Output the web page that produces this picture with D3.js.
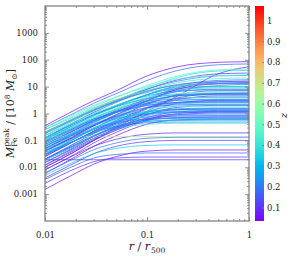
<!DOCTYPE html>
<html>
<head>
<meta charset="utf-8">
<script src="https://cdn.jsdelivr.net/npm/d3@7"></script>
<style>
  body { margin: 0; background: #fff; }
  text { font-family: "DejaVu Serif", "Liberation Serif", serif; fill: #222; }
</style>
</head>
<body>
<div id="mychart"></div>
<script>
// radii (r/r500) where each profile is sampled
var rGrid = [0.01, 0.02, 0.03, 0.05, 0.1, 0.2, 0.5, 1];

// redshift of each halo
var zValues = [
  0.06, 0.18, 0.08, 0.45, 0.38, 0.10, 0.22, 0.42,
  0.20, 0.09, 0.85, 0.25, 0.35, 0.15, 0.05, 0.55,
  0.20, 0.30, 0.08, 0.18, 0.40, 0.12, 0.24, 0.33,
  0.16, 0.07, 0.48, 0.20, 0.36, 0.28, 0.10, 0.22,
  0.40, 0.14, 0.06, 0.32, 0.19, 0.44, 0.09, 0.68,
  0.20, 0.11, 0.34, 0.07, 0.17, 0.10, 0.12, 0.37,
  0.26, 0.43, 0.21, 0.31, 0.13, 0.23, 0.52, 0.39,
  0.17, 0.04, 0.29, 0.46, 0.24, 0.10, 0.35, 0.15,
  0.19, 0.23, 0.14, 0.27, 0.21, 0.16, 0.25, 0.08,
  0.30, 0.18
];

// peak Fe mass profiles, 10^8 Msun, one row per halo (same order as zValues)
var profiles = [
  [0.35, 1.4, 3, 7, 25, 55, 80, 85],
  [0.3, 1.1, 2.4, 5.5, 17, 40, 65, 70],
  [0.01, 0.04, 0.1, 0.3, 1.2, 4.5, 30, 55],
  [0.25, 0.9, 1.8, 4, 11, 25, 42, 45],
  [0.15, 0.6, 1.3, 3, 9, 22, 38, 40],
  [0.12, 0.5, 1.1, 2.6, 8, 18, 30, 32],
  [0.2, 0.7, 1.4, 3, 8, 16, 25, 26],
  [0.18, 0.6, 1.2, 2.6, 7, 14, 20, 21],
  [0.1, 0.4, 0.8, 1.8, 5, 11, 17, 18],
  [0.05, 0.2, 0.45, 1.1, 3.5, 9, 15, 16],
  [0.2, 0.7, 1.5, 3.2, 7, 11, 12.5, 12.5],
  [0.15, 0.5, 1, 2, 5, 8.5, 10, 10],
  [0.08, 0.3, 0.65, 1.5, 4, 7.5, 9, 9],
  [0.06, 0.25, 0.55, 1.3, 3.5, 6.5, 8, 8],
  [0.03, 0.12, 0.28, 0.7, 2.2, 5, 7, 7],
  [0.12, 0.4, 0.8, 1.6, 3.5, 5.5, 6.5, 6.5],
  [0.04, 0.16, 0.35, 0.85, 2.4, 4.6, 5.8, 5.8],
  [0.1, 0.35, 0.7, 1.4, 3, 4.5, 5, 5],
  [0.02, 0.08, 0.18, 0.45, 1.5, 3.3, 4.5, 4.5],
  [0.07, 0.25, 0.5, 1.1, 2.5, 3.6, 4, 4],
  [0.05, 0.18, 0.4, 0.9, 2.1, 3.1, 3.5, 3.5],
  [0.015, 0.06, 0.14, 0.35, 1.1, 2.4, 3.1, 3.1],
  [0.09, 0.3, 0.6, 1.1, 2, 2.6, 2.8, 2.8],
  [0.03, 0.12, 0.27, 0.65, 1.6, 2.3, 2.5, 2.5],
  [0.05, 0.17, 0.35, 0.75, 1.6, 2.1, 2.2, 2.2],
  [0.01, 0.04, 0.1, 0.27, 0.9, 1.7, 2, 2],
  [0.07, 0.22, 0.45, 0.9, 1.5, 1.8, 1.85, 1.85],
  [0.025, 0.1, 0.22, 0.5, 1.1, 1.5, 1.6, 1.6],
  [0.04, 0.14, 0.3, 0.6, 1.1, 1.35, 1.4, 1.4],
  [0.02, 0.08, 0.18, 0.4, 0.85, 1.1, 1.2, 1.2],
  [0.008, 0.032, 0.08, 0.2, 0.55, 0.9, 1.05, 1.05],
  [0.03, 0.1, 0.2, 0.4, 0.75, 0.9, 0.95, 0.95],
  [0.05, 0.15, 0.28, 0.5, 0.75, 0.82, 0.85, 0.85],
  [0.012, 0.05, 0.11, 0.26, 0.55, 0.7, 0.75, 0.75],
  [0.006, 0.025, 0.06, 0.15, 0.4, 0.58, 0.62, 0.62],
  [0.02, 0.07, 0.15, 0.3, 0.5, 0.55, 0.56, 0.56],
  [0.035, 0.1, 0.19, 0.33, 0.45, 0.48, 0.48, 0.48],
  [0.015, 0.055, 0.12, 0.25, 0.4, 0.43, 0.43, 0.43],
  [0.008, 0.03, 0.06, 0.11, 0.17, 0.19, 0.19, 0.19],
  [0.14, 0.14, 0.14, 0.14, 0.14, 0.14, 0.14, 0.14],
  [0.006, 0.022, 0.045, 0.08, 0.12, 0.13, 0.13, 0.13],
  [0.004, 0.015, 0.032, 0.06, 0.09, 0.1, 0.1, 0.1],
  [0.005, 0.017, 0.032, 0.05, 0.065, 0.068, 0.068, 0.068],
  [0.0015, 0.006, 0.013, 0.025, 0.04, 0.044, 0.044, 0.044],
  [0.0035, 0.012, 0.022, 0.03, 0.034, 0.034, 0.034, 0.034],
  [0.0025, 0.009, 0.016, 0.022, 0.024, 0.024, 0.024, 0.024],
  [0.019, 0.019, 0.019, 0.019, 0.019, 0.019, 0.019, 0.019],
  [0.2, 0.7, 1.4, 2.8, 6, 9, 10, 10],
  [0.12, 0.45, 0.9, 2, 4.5, 7, 7.5, 7.5],
  [0.1, 0.35, 0.7, 1.4, 2.8, 3.8, 4, 4],
  [0.08, 0.28, 0.55, 1.1, 2, 2.5, 2.6, 2.6],
  [0.06, 0.2, 0.4, 0.75, 1.2, 1.4, 1.45, 1.45],
  [0.02, 0.07, 0.15, 0.32, 0.65, 0.8, 0.82, 0.82],
  [0.045, 0.14, 0.26, 0.45, 0.62, 0.66, 0.66, 0.66],
  [0.15, 0.5, 1, 2, 4, 5.5, 6, 6],
  [0.25, 0.8, 1.6, 3.3, 7, 11, 13, 13],
  [0.18, 0.65, 1.3, 2.8, 6.5, 12, 15, 15],
  [0.04, 0.15, 0.35, 0.9, 3, 8, 13, 14],
  [0.11, 0.4, 0.85, 1.9, 5, 10, 13, 13],
  [0.3, 1, 2, 4.2, 10, 19, 26, 27],
  [0.06, 0.22, 0.48, 1.1, 3, 7, 11, 12],
  [0.025, 0.1, 0.22, 0.55, 1.6, 3.8, 5.5, 5.7],
  [0.035, 0.12, 0.25, 0.55, 1.2, 1.9, 2.1, 2.1],
  [0.015, 0.055, 0.12, 0.28, 0.7, 1.15, 1.3, 1.3],
  [0.09, 0.32, 0.62, 1.2, 2.3, 3.1, 3.3, 3.3],
  [0.04, 0.13, 0.26, 0.5, 0.95, 1.2, 1.25, 1.25],
  [0.028, 0.1, 0.21, 0.45, 0.95, 1.4, 1.5, 1.5],
  [0.06, 0.19, 0.36, 0.65, 1.0, 1.1, 1.12, 1.12],
  [0.018, 0.065, 0.14, 0.3, 0.6, 0.7, 0.72, 0.72],
  [0.05, 0.18, 0.38, 0.8, 1.7, 2.6, 3.0, 3.0],
  [0.13, 0.45, 0.9, 1.8, 3.6, 5, 5.4, 5.4],
  [0.012, 0.045, 0.1, 0.24, 0.6, 1.0, 1.15, 1.15],
  [0.03, 0.1, 0.19, 0.35, 0.52, 0.58, 0.6, 0.6],
  [0.07, 0.26, 0.55, 1.2, 2.8, 4.6, 5.2, 5.2]
];

var xTickVals = [0.01, 0.1, 1];
var yTickVals = [0.001, 0.01, 0.1, 1, 10, 100, 1000];
var cbTickVals = [0.1, 0.2, 0.3, 0.4, 0.5, 0.6, 0.7, 0.8, 0.9, 1];
var zRange = [0.035, 1.07];

var margin = {left: 45, top: 6, right: 44, bottom: 40};
var width = 293 - margin.left - margin.right,
    height = 261 - margin.top - margin.bottom;
var frameColor = "#7a7a7a";

var svg = d3.select("#mychart")
  .append("svg")
    .attr("width", 293)
    .attr("height", 261);

var g = svg.append("g")
    .attr("transform", "translate(" + margin.left + "," + margin.top + ")");

var x = d3.scaleLog().domain([0.01, 1]).range([0, width]);
var y = d3.scaleLog().domain([1e-4, 1e4]).range([height, 0]);

// matplotlib "rainbow" colormap
function rainbow(t) {
  t = Math.max(0, Math.min(1, t));
  var r = Math.min(1, Math.abs(2 * t - 0.5)),
      gg = Math.sin(Math.PI * t),
      b = Math.cos(Math.PI * t / 2);
  return d3.rgb(r * 255, gg * 255, b * 255).toString();
}
var zNorm = d3.scaleLinear().domain(zRange).range([0, 1]);
var color = function(z) { return rainbow(zNorm(z)); };

// profiles
g.append("defs").append("clipPath").attr("id", "clip")
  .append("rect").attr("width", width).attr("height", height);

var line = d3.line()
  .x(function(d, i) { return x(rGrid[i]); })
  .y(function(d) { return y(d); })
  .curve(d3.curveMonotoneX);

g.append("g").attr("clip-path", "url(#clip)")
  .selectAll("path")
  .data(profiles)
  .enter()
  .append("path")
    .attr("d", line)
    .attr("fill", "none")
    .attr("stroke", function(d, i) { return color(zValues[i]); })
    .attr("stroke-width", 0.9)
    .attr("stroke-opacity", 0.8);

// axes with inward ticks on all four sides
var yMinor = [];
for (var e = -4; e < 4; e++) for (var k = 2; k < 10; k++) yMinor.push(k * Math.pow(10, e));
var xMinor = [];
for (var e2 = -2; e2 < 0; e2++) for (var k2 = 2; k2 < 10; k2++) xMinor.push(k2 * Math.pow(10, e2));

function styleAxis(sel) {
  sel.select(".domain").remove();
  sel.selectAll("line").attr("stroke", frameColor).attr("stroke-width", 0.8);
  sel.selectAll("text").attr("font-size", 8.5).attr("fill", "#222");
}
var fmt = function(d) { return String(+d.toPrecision(3)); };

g.append("g").attr("transform", "translate(0," + height + ")")
  .call(d3.axisBottom(x).tickValues(xTickVals).tickFormat(fmt).tickSizeInner(-4).tickSizeOuter(0).tickPadding(11))
  .call(styleAxis);
g.append("g").attr("transform", "translate(0," + height + ")")
  .call(d3.axisBottom(x).tickValues(xMinor).tickFormat("").tickSizeInner(-2).tickSizeOuter(0))
  .call(styleAxis);
g.append("g")
  .call(d3.axisTop(x).tickValues(xTickVals).tickFormat("").tickSizeInner(-4).tickSizeOuter(0))
  .call(styleAxis);
g.append("g")
  .call(d3.axisTop(x).tickValues(xMinor).tickFormat("").tickSizeInner(-2).tickSizeOuter(0))
  .call(styleAxis);

g.append("g")
  .call(d3.axisLeft(y).tickValues(yTickVals).tickFormat(fmt).tickSizeInner(-4).tickSizeOuter(0).tickPadding(7))
  .call(styleAxis);
g.append("g")
  .call(d3.axisLeft(y).tickValues(yMinor).tickFormat("").tickSizeInner(-2).tickSizeOuter(0))
  .call(styleAxis);
g.append("g").attr("transform", "translate(" + width + ",0)")
  .call(d3.axisRight(y).tickValues(yTickVals).tickFormat("").tickSizeInner(-4).tickSizeOuter(0))
  .call(styleAxis);
g.append("g").attr("transform", "translate(" + width + ",0)")
  .call(d3.axisRight(y).tickValues(yMinor).tickFormat("").tickSizeInner(-2).tickSizeOuter(0))
  .call(styleAxis);

g.append("rect")
  .attr("width", width).attr("height", height)
  .attr("fill", "none").attr("stroke", frameColor).attr("stroke-width", 1.2);

// axis labels
g.append("text")
  .attr("x", width / 2).attr("y", height + 29)
  .attr("text-anchor", "middle").attr("font-size", 11)
  .call(function(t) {
    t.append("tspan").attr("font-style", "italic").text("r");
    t.append("tspan").text(" / ");
    t.append("tspan").attr("font-style", "italic").text("r");
    t.append("tspan").attr("font-size", 7.5).attr("dx", 1).attr("dy", 3).text("500");
  });

g.append("text")
  .attr("transform", "translate(-31," + (height / 2) + ") rotate(-90)")
  .attr("text-anchor", "middle").attr("font-size", 11)
  .call(function(t) {
    t.append("tspan").attr("font-style", "italic").text("M");
    t.append("tspan").attr("font-size", 7.5).attr("dy", 3).text("Fe");
    t.append("tspan").attr("font-size", 7.5).attr("dx", -9).attr("dy", -8).text("peak");
    t.append("tspan").attr("dy", 5).text(" / [10");
    t.append("tspan").attr("font-size", 7.5).attr("dy", -4).text("8");
    t.append("tspan").attr("dy", 4).attr("font-style", "italic").text(" M");
    t.append("tspan").attr("font-size", 7.5).attr("dy", 2.5).text("\u2299");
    t.append("tspan").attr("dy", -2.5).text("]");
  });

// colorbar
var cbX = 255, cbW = 9;
var cbY = d3.scaleLinear().domain(zRange).range([margin.top + height, margin.top]);

var grad = svg.append("defs").append("linearGradient")
  .attr("id", "cbgrad").attr("x1", 0).attr("y1", 1).attr("x2", 0).attr("y2", 0);
d3.range(0, 1.0001, 0.05).forEach(function(t) {
  grad.append("stop").attr("offset", t).attr("stop-color", rainbow(t));
});
svg.append("rect")
  .attr("x", cbX).attr("y", margin.top)
  .attr("width", cbW).attr("height", height)
  .attr("fill", "url(#cbgrad)");

svg.append("g").attr("transform", "translate(" + (cbX + cbW) + ",0)")
  .call(d3.axisRight(cbY).tickValues(cbTickVals).tickFormat(fmt).tickSizeInner(-2).tickSizeOuter(0).tickPadding(3))
  .call(styleAxis);

svg.append("text")
  .attr("transform", "translate(287," + (margin.top + height / 2 + 2) + ") rotate(-90)")
  .attr("text-anchor", "middle").attr("font-size", 10).attr("font-style", "italic")
  .text("z");
</script>
</body>
</html>
